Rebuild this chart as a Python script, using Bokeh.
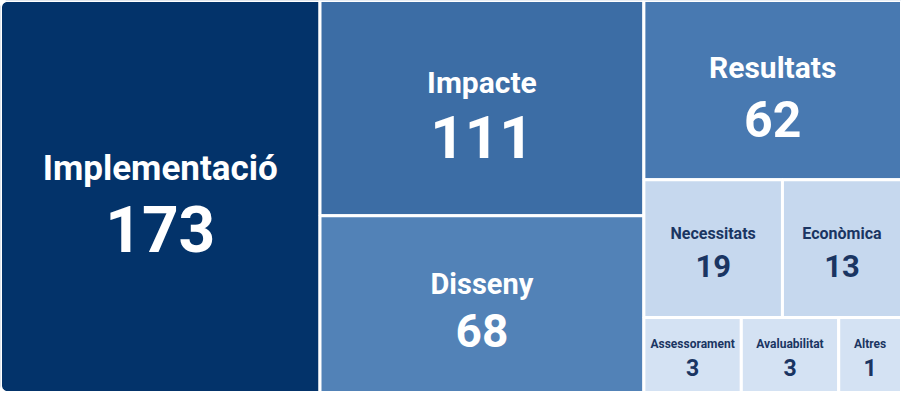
import math
from bokeh.plotting import figure
from bokeh.models import ColumnDataSource, Range1d
from bokeh.core.properties import value
from bokeh.embed import file_html
from bokeh.resources import INLINE

# ---- data ----
categories = ["Implementació", "Impacte", "Disseny", "Resultats", "Necessitats",
              "Econòmica", "Assessorament", "Avaluabilitat", "Altres"]
counts = [173, 111, 68, 62, 19, 13, 3, 3, 1]

# nesting of the treemap: columns -> rows -> cells
layout_groups = [
    [["Implementació"]],
    [["Impacte"], ["Disseny"]],
    [["Resultats"], ["Necessitats", "Econòmica"], ["Assessorament", "Avaluabilitat", "Altres"]],
]

# ---- styles ----
fill_colors = {
    "Implementació": "#03336a", "Impacte": "#3c6da5", "Disseny": "#5282b7",
    "Resultats": "#4879b1", "Necessitats": "#c6d8ee", "Econòmica": "#c6d8ee",
    "Assessorament": "#d4e2f3", "Avaluabilitat": "#d4e2f3", "Altres": "#d4e2f3",
}
dark_text = "#1a3562"
text_colors = {c: ("white" if c in ("Implementació", "Impacte", "Disseny", "Resultats") else dark_text)
               for c in categories}
# label size, number size, gap between the two (px)
text_styles = {
    "Implementació": (35, 64, 21), "Impacte": (30, 60, 18), "Disseny": (29, 46, 17),
    "Resultats": (30, 50, 20), "Necessitats": (16, 31, 13), "Econòmica": (16, 31, 13),
    "Assessorament": (12, 23, 10), "Avaluabilitat": (12, 23, 10), "Altres": (12, 23, 10),
}

W, H = 901, 392
P = 0.4  # compressed area scale so that small cells stay legible
CORNER = 7

val = dict(zip(categories, counts))


def weight(v):
    return v ** P


cells = {}
col_tot = [sum(val[c] for row in col for c in row) for col in layout_groups]
col_w = [weight(t) for t in col_tot]
x = 0.0
for col, cw in zip(layout_groups, col_w):
    width = W * cw / sum(col_w)
    row_tot = [sum(val[c] for c in row) for row in col]
    row_w = [weight(t) for t in row_tot]
    ytop = float(H)
    for row, rw in zip(col, row_w):
        height = H * rw / sum(row_w)
        cell_w = [weight(val[c]) for c in row]
        xx = x
        for c, ccw in zip(row, cell_w):
            cwid = width * ccw / sum(cell_w)
            cells[c] = (xx, xx + cwid, ytop - height, ytop)
            xx += cwid
        ytop -= height
    x += width


def cell_outline(l, r, b, t, round_left):
    if not round_left:
        return [l, r, r, l], [b, b, t, t]
    xs, ys = [], []
    rad = CORNER
    # bottom-left arc
    for k in range(0, 10):
        a = math.pi + k * (math.pi / 2) / 9
        xs.append(l + rad + rad * math.cos(a))
        ys.append(b + rad + rad * math.sin(a))
    xs += [r, r]
    ys += [b, t]
    # top-left arc
    for k in range(0, 10):
        a = math.pi / 2 + k * (math.pi / 2) / 9
        xs.append(l + rad + rad * math.cos(a))
        ys.append(t - rad + rad * math.sin(a))
    return xs, ys


CAP = 0.711
LIFT = 0.2  # baseline correction, in em
data = dict(xs=[], ys=[], fill=[], name=[], num=[],
            cx=[], ly=[], ny=[], lsize=[], nsize=[], tcolor=[])
for c, v in zip(categories, counts):
    l, r, b, t = cells[c]
    fl, fn, gap = text_styles[c]
    cy = (b + t) / 2
    total = CAP * fl + gap + CAP * fn
    xs, ys = cell_outline(l, r, b, t, l == 0)
    data["xs"].append(xs)
    data["ys"].append(ys)
    data["fill"].append(fill_colors[c])
    data["name"].append(c)
    data["num"].append(str(v))
    data["cx"].append((l + r) / 2)
    data["ly"].append(cy + total / 2 - CAP * fl + LIFT * fl)
    data["ny"].append(cy - total / 2 + LIFT * fn)
    data["lsize"].append(f"{fl}px")
    data["nsize"].append(f"{fn}px")
    data["tcolor"].append(text_colors[c])

p = figure(width=W, height=H, x_range=Range1d(0, W), y_range=Range1d(0, H),
           output_backend="svg", toolbar_location=None, min_border=0,
           x_axis_type=None, y_axis_type=None)
p.grid.visible = False
p.outline_line_color = None
p.background_fill_color = "white"
p.border_fill_color = "white"

src = ColumnDataSource(data)
p.patches(xs="xs", ys="ys", source=src, fill_color="fill",
          line_color="white", line_width=3)
p.text(x="cx", y="ly", text="name", source=src, text_align="center",
       text_baseline="alphabetic", text_font=value("Roboto"), text_font_style="bold",
       text_font_size="lsize", text_color="tcolor")
p.text(x="cx", y="ny", text="num", source=src, text_align="center",
       text_baseline="alphabetic", text_font=value("Roboto"), text_font_style="bold",
       text_font_size="nsize", text_color="tcolor")

open("out.html", "w").write(file_html(p, INLINE))
